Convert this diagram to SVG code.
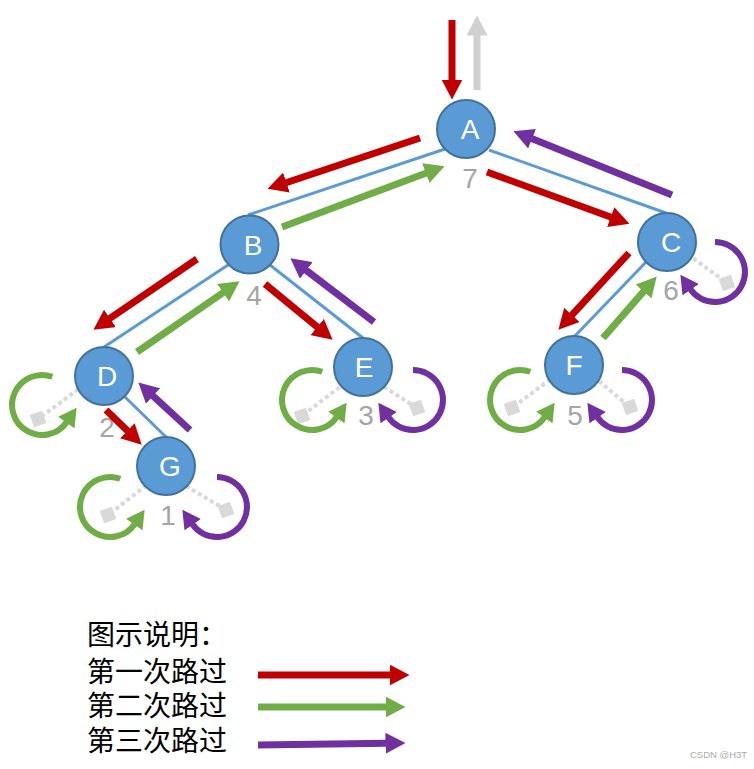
<svg xmlns="http://www.w3.org/2000/svg" width="754" height="769" viewBox="0 0 754 769">
<style>
.edge{stroke:#5B9BD5;stroke-width:3;fill:none}
.a{stroke-width:7;fill:none}
.r{stroke:#C00000}.g{stroke:#70AD47}.p{stroke:#7030A0}.gr{stroke:#D0D0D0}
.lp{stroke-width:6;fill:none}
.dot{stroke:#D9D9D9;stroke-width:4;stroke-dasharray:4 3;fill:none}
.sq{fill:#D9D9D9}
.node circle{fill:#5B9BD5;stroke:#41719C;stroke-width:2}
.node text{fill:#fff;font-family:"Liberation Sans",Arial,sans-serif;font-size:28px;text-anchor:middle}
.num{fill:#A5A5A5;font-family:"Liberation Sans",Arial,sans-serif;font-size:28px;text-anchor:middle}
.leg{fill:#000;font-family:"Liberation Serif","Noto Sans CJK SC",serif;font-size:28px}
</style>
<defs>
<marker id="hr" markerUnits="userSpaceOnUse" viewBox="0 0 20 21" markerWidth="20" markerHeight="21" refX="0.5" refY="10.5" orient="auto"><path d="M0,0L20,10.5L0,21z" fill="#C00000"/></marker>
<marker id="hg" markerUnits="userSpaceOnUse" viewBox="0 0 20 21" markerWidth="20" markerHeight="21" refX="0.5" refY="10.5" orient="auto"><path d="M0,0L20,10.5L0,21z" fill="#70AD47"/></marker>
<marker id="hp" markerUnits="userSpaceOnUse" viewBox="0 0 20 21" markerWidth="20" markerHeight="21" refX="0.5" refY="10.5" orient="auto"><path d="M0,0L20,10.5L0,21z" fill="#7030A0"/></marker>
<marker id="hgr" markerUnits="userSpaceOnUse" viewBox="0 0 20 21" markerWidth="20" markerHeight="21" refX="0.5" refY="10.5" orient="auto"><path d="M0,0L20,10.5L0,21z" fill="#D0D0D0"/></marker>
<marker id="lg" markerUnits="userSpaceOnUse" viewBox="0 0 18 20" markerWidth="18" markerHeight="20" refX="0.5" refY="10" orient="auto"><path d="M0,0L18,10L0,20z" fill="#70AD47"/></marker>
<marker id="lpm" markerUnits="userSpaceOnUse" viewBox="0 0 18 20" markerWidth="18" markerHeight="20" refX="0.5" refY="10" orient="auto"><path d="M0,0L18,10L0,20z" fill="#7030A0"/></marker>
</defs>

<g id="edges">
<line class="edge" x1="248" y1="215" x2="445" y2="149"/>
<line class="edge" x1="489" y1="150" x2="666" y2="213"/>
<line class="edge" x1="228" y1="265" x2="104" y2="347"/>
<line class="edge" x1="270" y1="265" x2="363" y2="338"/>
<line class="edge" x1="646" y1="262" x2="574" y2="337"/>
<line class="edge" x1="125" y1="397" x2="167" y2="438"/>
</g>

<g id="dotted">
<line class="dot" x1="84" y1="385" x2="38" y2="419"/>
<rect class="sq" x="31.5" y="412.5" width="13" height="13" transform="rotate(-20 38 419)"/>
<line class="dot" x1="152" y1="481" x2="108" y2="515"/>
<rect class="sq" x="101.5" y="508.5" width="13" height="13" transform="rotate(-20 108 515)"/>
<line class="dot" x1="186" y1="486" x2="226" y2="510"/>
<rect class="sq" x="219.5" y="503.5" width="13" height="13" transform="rotate(-20 226 510)"/>
<line class="dot" x1="345" y1="383" x2="302" y2="416"/>
<rect class="sq" x="295.5" y="409.5" width="13" height="13" transform="rotate(-20 302 416)"/>
<line class="dot" x1="378" y1="383" x2="417" y2="408"/>
<rect class="sq" x="410.5" y="401.5" width="13" height="13" transform="rotate(-20 417 408)"/>
<line class="dot" x1="556" y1="375" x2="512" y2="408"/>
<rect class="sq" x="505.5" y="401.5" width="13" height="13" transform="rotate(-20 512 408)"/>
<line class="dot" x1="588" y1="372" x2="630" y2="407"/>
<rect class="sq" x="623.5" y="400.5" width="13" height="13" transform="rotate(-20 630 407)"/>
<line class="dot" x1="682" y1="250" x2="727" y2="283"/>
<rect class="sq" x="720.5" y="276.5" width="13" height="13" transform="rotate(-20 727 283)"/>
</g>

<g id="nodeA" class="node"><circle cx="466" cy="129" r="29"/><text x="470" y="139">A</text></g>
<g id="nodeB" class="node"><circle cx="249.5" cy="244.5" r="29"/><text x="253" y="255">B</text></g>
<g id="nodeC" class="node"><circle cx="667" cy="242" r="29"/><text x="671" y="252">C</text></g>
<g id="nodeD" class="node"><circle cx="104" cy="376" r="29"/><text x="107" y="386">D</text></g>
<g id="nodeE" class="node"><circle cx="363" cy="367" r="29"/><text x="364" y="377">E</text></g>
<g id="nodeF" class="node"><circle cx="574" cy="365" r="29"/><text x="574" y="375">F</text></g>
<g id="nodeG" class="node"><circle cx="166" cy="466" r="29"/><text x="170" y="476">G</text></g>

<g id="numbers">
<text class="num" x="470" y="188">7</text>
<text class="num" x="254" y="305">4</text>
<text class="num" x="107" y="437">2</text>
<text class="num" x="168" y="525">1</text>
<text class="num" x="366" y="425">3</text>
<text class="num" x="575" y="425">5</text>
<text class="num" x="671" y="300">6</text>
</g>

<g id="arrows">
<line class="a r" x1="452" y1="20" x2="452" y2="80" marker-end="url(#hr)"/>
<line class="a gr" x1="477" y1="90" x2="477" y2="35" marker-end="url(#hgr)"/>
<line class="a r" x1="420" y1="138" x2="286" y2="182.7" marker-end="url(#hr)"/>
<line class="a g" x1="282" y1="227" x2="426.3" y2="173" marker-end="url(#hg)"/>
<line class="a r" x1="487" y1="172" x2="611.2" y2="217.2" marker-end="url(#hr)"/>
<line class="a p" x1="672" y1="195" x2="531.6" y2="138.5" marker-end="url(#hp)"/>
<line class="a r" x1="197" y1="259" x2="109.5" y2="318.7" marker-end="url(#hr)"/>
<line class="a g" x1="137" y1="352" x2="223.5" y2="292.4" marker-end="url(#hg)"/>
<line class="a r" x1="265" y1="284" x2="317.6" y2="327.3" marker-end="url(#hr)"/>
<line class="a p" x1="374" y1="322" x2="305.9" y2="270.1" marker-end="url(#hp)"/>
<line class="a r" x1="629" y1="253" x2="571.6" y2="315.3" marker-end="url(#hr)"/>
<line class="a g" x1="603" y1="338" x2="643.9" y2="291.1" marker-end="url(#hg)"/>
<line class="a r" x1="106" y1="410" x2="127.7" y2="431.1" marker-end="url(#hr)"/>
<line class="a p" x1="190" y1="430" x2="152.7" y2="395.6" marker-end="url(#hp)"/>
</g>

<g id="loops">
<path class="lp g" d="M52.3,376.8A30,30 0 1 0 66.6,422.2" marker-end="url(#lg)"/>
<path class="lp g" d="M120.3,478.8A30,30 0 1 0 134.6,524.2" marker-end="url(#lg)"/>
<path class="lp g" d="M322.3,371.8A30,30 0 1 0 336.6,417.2" marker-end="url(#lg)"/>
<path class="lp g" d="M530.3,371.8A30,30 0 1 0 544.6,417.2" marker-end="url(#lg)"/>
<path class="lp p" d="M217,477A30,30 0 1 1 192.4,524.2" marker-end="url(#lpm)"/>
<path class="lp p" d="M413,370A30,30 0 1 1 388.4,417.2" marker-end="url(#lpm)"/>
<path class="lp p" d="M622,370A30,30 0 1 1 597.4,417.2" marker-end="url(#lpm)"/>
<path class="lp p" d="M715,242A30,30 0 1 1 690.4,289.2" marker-end="url(#lpm)"/>
</g>

<g id="legend">
<text class="leg" x="87" y="645">图示说明：</text>
<text class="leg" x="87" y="682">第一次路过</text>
<text class="leg" x="87" y="716">第二次路过</text>
<text class="leg" x="87" y="751">第三次路过</text>
<line class="a r" x1="258" y1="675" x2="390" y2="675" marker-end="url(#hr)"/>
<line class="a g" x1="258" y1="707" x2="386" y2="707" marker-end="url(#hg)"/>
<line class="a p" x1="258" y1="745" x2="386" y2="743.3" marker-end="url(#hp)"/>
</g>

<text x="690" y="758" fill="#AAAAAA" font-family="Liberation Sans, Arial, sans-serif" font-size="9.5">CSDN @H3T</text>
</svg>
